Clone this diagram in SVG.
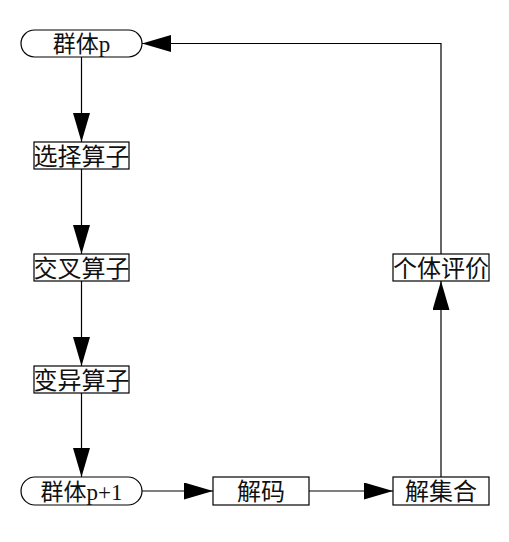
<svg xmlns="http://www.w3.org/2000/svg" width="509" height="542" viewBox="0 0 509 542">
<defs>
<style>
.box{fill:#fff;stroke:#000;stroke-width:1.2}
.line{fill:none;stroke:#000;stroke-width:1.2}
.t{font-family:"Liberation Serif","Noto Sans CJK SC",serif;font-size:24px;fill:#111;text-anchor:middle}
.tc{font-size:23px}
</style>
<marker id="ah" markerUnits="userSpaceOnUse" markerWidth="29" markerHeight="17" refX="29" refY="8.5" orient="auto">
<path d="M0,0 L29,8.5 L0,17 Z" fill="#000"/>
</marker>
</defs>
<rect width="509" height="542" fill="#fff"/>
<g id="connectors">
<line class="line" x1="81.5" y1="57" x2="81.5" y2="142" marker-end="url(#ah)"/>
<line class="line" x1="81.5" y1="169" x2="81.5" y2="254" marker-end="url(#ah)"/>
<line class="line" x1="81.5" y1="281" x2="81.5" y2="366" marker-end="url(#ah)"/>
<line class="line" x1="81.5" y1="393" x2="81.5" y2="477" marker-end="url(#ah)"/>
<line class="line" x1="142" y1="491" x2="213" y2="491" marker-end="url(#ah)"/>
<line class="line" x1="309" y1="491" x2="393" y2="491" marker-end="url(#ah)"/>
<line class="line" x1="441" y1="477" x2="441" y2="281" marker-end="url(#ah)"/>
<polyline class="line" points="441,254 441,43.5 142,43.5" marker-end="url(#ah)"/>
</g>
<g id="pop-p">
<rect class="box" x="21" y="30" width="121" height="27" rx="13.5" ry="13.5"/>
<text class="t tc" x="81.5" y="52">群体p</text>
</g>
<g id="select">
<rect class="box" x="34" y="142" width="95" height="27"/>
<text class="t" x="81.5" y="164.5">选择算子</text>
</g>
<g id="crossover">
<rect class="box" x="34" y="254" width="95" height="27"/>
<text class="t" x="81.5" y="276.5">交叉算子</text>
</g>
<g id="mutation">
<rect class="box" x="34" y="366" width="95" height="27"/>
<text class="t" x="81.5" y="388.5">变异算子</text>
</g>
<g id="pop-p1">
<rect class="box" x="21" y="477" width="121" height="28" rx="14" ry="14"/>
<text class="t tc" x="81.5" y="499.5">群体p+1</text>
</g>
<g id="decode">
<rect class="box" x="213" y="477" width="96" height="28"/>
<text class="t" x="261" y="500">解码</text>
</g>
<g id="solution-set">
<rect class="box" x="393" y="477" width="96" height="28"/>
<text class="t" x="441" y="500">解集合</text>
</g>
<g id="evaluate">
<rect class="box" x="393" y="254" width="96" height="27"/>
<text class="t" x="441" y="276.5">个体评价</text>
</g>
</svg>
